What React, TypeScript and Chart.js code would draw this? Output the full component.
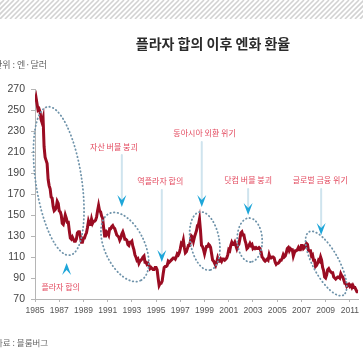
import React, { useEffect, useRef } from "react";
import { Chart, registerables } from "chart.js";

Chart.register(...registerables);

// ---- data (monthly yen per dollar, starting Jan 1985) ----
const START_YEAR = 1985;
const rate1985to1989 = [
  258, 262, 256, 250, 251, 248, 241, 238, 242, 215, 205, 202,
  199, 184, 178, 175, 167, 166, 158, 154, 155, 157, 163, 161,
  154, 153, 150, 142, 141, 145, 150, 147, 143, 143, 135, 128,
  127, 129, 127, 125, 125, 127, 133, 134, 134, 129, 124, 124,
  128, 128, 131, 133, 138, 144, 141, 141, 146, 142, 144, 144,
];
const rate1990to1994 = [
  145, 148, 154, 159, 154, 153, 149, 147, 138, 130, 130, 134,
  133, 131, 137, 137, 139, 140, 138, 137, 134, 131, 130, 129,
  126, 128, 132, 134, 131, 127, 127, 126, 122, 121, 124, 124,
  125, 120, 117, 112, 110, 107, 108, 104, 106, 107, 108, 110,
  111, 105, 105, 103, 104, 102, 99, 100, 99, 98, 98, 100,
];
const rate1995to1999 = [
  100, 98, 90, 83, 85, 85, 87, 94, 100, 101, 101, 102,
  106, 105, 106, 107, 108, 109, 109, 108, 110, 113, 112, 114,
  118, 123, 122, 126, 119, 114, 115, 118, 121, 121, 125, 130,
  129, 125, 129, 132, 135, 140, 141, 146, 135, 121, 120, 117,
  113, 117, 120, 120, 122, 121, 119, 113, 107, 106, 104, 102,
];
const rate2000to2004 = [
  105, 109, 106, 106, 108, 106, 108, 108, 107, 108, 109, 112,
  117, 116, 121, 124, 122, 122, 124, 121, 118, 121, 122, 127,
  133, 134, 131, 131, 126, 123, 118, 119, 121, 123, 121, 122,
  118, 119, 118, 119, 118, 118, 119, 118, 115, 110, 109, 107,
  106, 107, 108, 107, 112, 109, 109, 110, 110, 109, 105, 103,
];
const rate2005to2009 = [
  104, 104, 105, 107, 107, 109, 112, 110, 111, 114, 118, 119,
  116, 118, 117, 117, 111, 114, 116, 116, 117, 119, 117, 117,
  121, 121, 118, 119, 121, 123, 122, 116, 116, 116, 111, 112,
  107, 107, 101, 102, 104, 107, 106, 110, 107, 100, 97, 91,
  90, 93, 98, 99, 97, 96, 95, 95, 91, 90, 89, 90,
];
const rate2010to2011 = [
  91, 91, 90, 94, 92, 91, 88, 85, 85, 82, 83, 84,
  82, 83, 81, 83, 81, 81, 79, 77, 77,
];

const xTickYears = [1985, 1987, 1989, 1991, 1993, 1995, 1997, 1999, 2001, 2003, 2005, 2007, 2009, 2011];
const yTickValues = [70, 90, 110, 130, 150, 170, 190, 210, 230, 250, 270];

const titleText = "플라자 합의 이후 엔화 환율";
const unitText = "단위 : 엔·달러";
const sourceText = "자료 : 블룸버그";

// event annotations, anchored in data units (year, yen)
const arrowNotes = [
  { label: "플라자 합의", labelYear: 1987.12, labelValue: 81.4, year: 1987.61, tip: 104.3, from: 104.3, dir: -1 },
  { label: "자산 버블 붕괴", labelYear: 1991.52, labelValue: 214.8, year: 1992.17, tip: 157.6, from: 207.1, dir: 1 },
  { label: "역플라자 합의", labelYear: 1995.35, labelValue: 182.4, year: 1995.47, tip: 105.2, from: 173.8, dir: 1 },
  { label: "동아시아 외환 위기", labelYear: 1999.0, labelValue: 228.1, year: 1998.77, tip: 157.6, from: 219.5, dir: 1 },
  { label: "닷컴 버블 붕괴", labelYear: 2002.6, labelValue: 183.3, year: 2002.6, tip: 150.0, from: 174.8, dir: 1 },
  { label: "글로벌 금융 위기", labelYear: 2008.55, labelValue: 183.3, year: 2008.63, tip: 131.0, from: 174.8, dir: 1 },
];
const ellipseNotes = [
  { year: 1986.96, value: 182.4, rx: 75, ry: 23, angle: 81.5 },
  { year: 1992.42, value: 119.5, rx: 37, ry: 20, angle: 65 },
  { year: 1999.02, value: 125.2, rx: 29.5, ry: 14.5, angle: 80 },
  { year: 2002.73, value: 126.2, rx: 22, ry: 12.5, angle: 88 },
  { year: 2009.04, value: 103.8, rx: 36, ry: 13, angle: 61.6 },
];

const allRates = [
  ...rate1985to1989,
  ...rate1990to1994,
  ...rate1995to1999,
  ...rate2000to2004,
  ...rate2005to2009,
  ...rate2010to2011,
];
const points = allRates.map((v, i) => ({ x: START_YEAR + i / 12, y: v }));

const KR = "'Noto Sans CJK KR', 'Noto Sans', sans-serif";

const notesPlugin = {
  id: "notes",
  beforeDraw(chart: any) {
    const ctx = chart.ctx as CanvasRenderingContext2D;
    ctx.save();
    ctx.fillStyle = "#ffffff";
    ctx.fillRect(0, 0, chart.width, chart.height);
    // hatched top band
    ctx.beginPath();
    ctx.rect(0, 0, chart.width, 19);
    ctx.clip();
    ctx.strokeStyle = "#d2d2d2";
    ctx.lineWidth = 1.6;
    for (let x = -25; x < chart.width + 25; x += 5) {
      ctx.beginPath();
      ctx.moveTo(x, 19);
      ctx.lineTo(x + 19, 0);
      ctx.stroke();
    }
    ctx.restore();

    ctx.save();
    ctx.fillStyle = "#2b2b2b";
    ctx.font = `bold 14px ${KR}`;
    ctx.textAlign = "center";
    ctx.textBaseline = "middle";
    ctx.fillText(titleText, 213, 44);
    ctx.fillStyle = "#666";
    ctx.font = `9px ${KR}`;
    ctx.textAlign = "left";
    ctx.fillText(unitText, -6, 65);
    ctx.font = `8.5px ${KR}`;
    ctx.fillText(sourceText, -5, 343);
    ctx.restore();
  },
  afterDatasetsDraw(chart: any) {
    const ctx = chart.ctx as CanvasRenderingContext2D;
    const xs = chart.scales.x;
    const ys = chart.scales.y;
    ctx.save();
    // dotted ellipses
    ctx.strokeStyle = "#6f93aa";
    ctx.lineWidth = 1.8;
    ctx.lineCap = "round";
    ctx.setLineDash([0.5, 3.2]);
    for (const e of ellipseNotes) {
      const cx = xs.getPixelForValue(e.year);
      const cy = ys.getPixelForValue(e.value);
      ctx.beginPath();
      ctx.ellipse(cx, cy, e.rx, e.ry, (e.angle * Math.PI) / 180, 0, Math.PI * 2);
      ctx.stroke();
    }
    ctx.setLineDash([]);
    // arrows + labels
    for (const a of arrowNotes) {
      const x = xs.getPixelForValue(a.year);
      const tipY = ys.getPixelForValue(a.tip);
      const fromY = ys.getPixelForValue(a.from);
      const h = 12;
      const w = 4.5;
      const notch = 7;
      if (a.dir === 1) {
        ctx.strokeStyle = "#cfe4ee";
        ctx.lineWidth = 2;
        ctx.beginPath();
        ctx.moveTo(x, fromY);
        ctx.lineTo(x, tipY - notch);
        ctx.stroke();
      }
      ctx.fillStyle = "#1ea6d9";
      ctx.beginPath();
      ctx.moveTo(x, tipY);
      ctx.lineTo(x - w, tipY - a.dir * h);
      ctx.lineTo(x, tipY - a.dir * notch);
      ctx.lineTo(x + w, tipY - a.dir * h);
      ctx.closePath();
      ctx.fill();

      ctx.fillStyle = "#e34a5f";
      ctx.font = `8px ${KR}`;
      ctx.textAlign = "center";
      ctx.textBaseline = "middle";
      ctx.fillText(a.label, xs.getPixelForValue(a.labelYear), ys.getPixelForValue(a.labelValue));
    }
    ctx.restore();
  },
};

export default function App() {
  const ref = useRef<HTMLCanvasElement | null>(null);
  useEffect(() => {
    if (!ref.current) return;
    const chart = new Chart(ref.current, {
      type: "line",
      data: {
        datasets: [
          {
            data: points,
            borderColor: "#9a0c22",
            borderWidth: 3,
            pointRadius: 0,
            tension: 0,
          },
          {
            data: points,
            borderColor: "#e0243d",
            borderWidth: 1.6,
            pointRadius: 0,
            tension: 0,
          },
        ],
      },
      options: {
        animation: false,
        responsive: false,
        devicePixelRatio: 1,
        layout: { padding: { top: 89, left: 0, right: 0, bottom: 0 } },
        plugins: {
          legend: { display: false },
          tooltip: { enabled: false },
          title: { display: false },
        },
        scales: {
          x: {
            type: "linear",
            min: 1985,
            max: 2011.75,
            afterFit: (s: any) => {
              s.height = 64;
            },
            afterBuildTicks: (s: any) => {
              s.ticks = xTickYears.map((v) => ({ value: v }));
            },
            border: { color: "#b5b5b5", width: 1 },
            grid: { drawOnChartArea: false, drawTicks: true, tickLength: 3, color: "#b5b5b5" },
            ticks: {
              autoSkip: false,
              maxRotation: 0,
              padding: 4,
              color: "#555",
              font: { family: "'Liberation Sans Narrow', 'Liberation Sans', sans-serif", size: 8.5 },
              callback: (v: any) => String(v),
            },
          },
          y: {
            type: "linear",
            min: 70,
            max: 270,
            afterFit: (s: any) => {
              s.width = 35;
            },
            afterBuildTicks: (s: any) => {
              s.ticks = yTickValues.map((v) => ({ value: v }));
            },
            border: { color: "#b5b5b5", width: 1 },
            grid: { drawOnChartArea: false, drawTicks: true, tickLength: 4, color: "#b5b5b5" },
            ticks: {
              autoSkip: false,
              padding: 6,
              color: "#444",
              font: { family: "'Liberation Sans Narrow', 'Liberation Sans', sans-serif", size: 10.5 },
              callback: (v: any) => String(v),
            },
          },
        },
      },
      plugins: [notesPlugin],
    } as any);
    return () => chart.destroy();
  }, []);
  return (
    <div
      style={{
        position: "fixed",
        left: 0,
        top: 0,
        width: 363,
        height: 363,
        overflow: "hidden",
        background: "#fff",
      }}
    >
      <canvas ref={ref} width={363} height={363} style={{ display: "block", width: 363, height: 363 }} />
    </div>
  );
}
